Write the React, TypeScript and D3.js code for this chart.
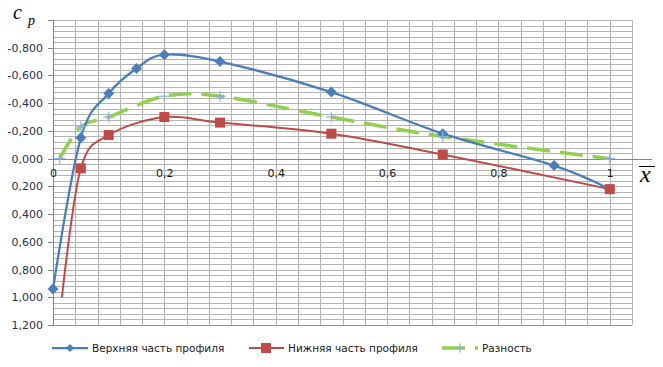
import * as d3 from "d3";

// верхняя часть профиля
const xUpper = [0, 0.05, 0.1, 0.15, 0.2, 0.3, 0.5, 0.7, 0.9, 1];
const cpUpper = [0.94, -0.15, -0.47, -0.65, -0.75, -0.7, -0.48, -0.18, 0.05, 0.22];
// нижняя часть профиля
const xLower = [0.016, 0.05, 0.1, 0.2, 0.3, 0.5, 0.7, 1];
const cpLower = [1.0, 0.07, -0.17, -0.3, -0.26, -0.18, -0.03, 0.22];
// разность
const xDiff = [0.012, 0.05, 0.1, 0.2, 0.3, 0.5, 0.7, 1];
const cpDiff = [0.0, -0.23, -0.3, -0.45, -0.45, -0.3, -0.16, 0.0];

const yTicks = [-0.8, -0.6, -0.4, -0.2, 0, 0.2, 0.4, 0.6, 0.8, 1.0, 1.2];
const xTicks = [0, 0.2, 0.4, 0.6, 0.8, 1];
const xTickLabels = ["0", "0,2", "0,4", "0,6", "0,8", "1"];
const seriesNames = ["Верхняя часть профиля", "Нижняя часть профиля", "Разность"];

const BLUE = "#4A7EBB";
const RED = "#BE4B48";
const GREEN = "#92D050";
const CROSS = "#8EB0DA";
const GRID = "#B4B4B4";
const FONT = "DejaVu Sans";

const width = 663;
const height = 367;

const x = d3.scaleLinear().domain([0, 1.04]).range([53, 632]);
const y = d3.scaleLinear().domain([-1.0, 1.2]).range([20, 325]);

const zip = (xs: number[], ys: number[]) => xs.map((v, i) => [v, ys[i]] as [number, number]);

const line = d3
  .line<[number, number]>()
  .x((d) => x(d[0]))
  .y((d) => y(d[1]))
  .curve(d3.curveCardinal.tension(0));

const fmtY = (v: number) => (v < -1e-9 ? "-" : "") + Math.abs(v).toFixed(3).replace(".", ",");

const gridX = d3.range(0, 27).map((i) => i * 0.04);
const gridY = d3.range(0, 56).map((i) => -1.0 + i * 0.04);

function Diamond({ cx, cy, r, color }: { cx: number; cy: number; r: number; color: string }) {
  return <path d={`M${cx},${cy - r}L${cx + r},${cy}L${cx},${cy + r}L${cx - r},${cy}Z`} fill={color} />;
}

function Cross({ cx, cy, r }: { cx: number; cy: number; r: number }) {
  return (
    <g stroke={CROSS} strokeWidth={1.2}>
      <line x1={cx - r} x2={cx + r} y1={cy} y2={cy} />
      <line x1={cx} x2={cx} y1={cy - r} y2={cy + r} />
    </g>
  );
}

export default function App() {
  const upper = zip(xUpper, cpUpper);
  const lower = zip(xLower, cpLower);
  const diff = zip(xDiff, cpDiff);
  const legY = 348;

  return (
    <svg
      width={width}
      height={height}
      style={{ position: "absolute", left: 0, top: 0, background: "#fff" }}
      fontFamily={FONT}
    >
      <rect width={width} height={height} fill="#fff" />
      <g className="grid" stroke={GRID} strokeWidth={1}>
        {gridX.map((g, i) => (
          <line key={"gx" + i} x1={Math.round(x(g)) + 0.5} x2={Math.round(x(g)) + 0.5} y1={20} y2={325} />
        ))}
        {gridY.map((g, i) => (
          <line key={"gy" + i} x1={53} x2={632} y1={Math.round(y(g)) + 0.5} y2={Math.round(y(g)) + 0.5} />
        ))}
      </g>

      {/* axes */}
      <line x1={53} x2={652} y1={Math.round(y(0)) + 0.5} y2={Math.round(y(0)) + 0.5} stroke="#868686" />
      <line x1={53.5} x2={53.5} y1={20} y2={325} stroke="#868686" />
      <line x1={53} x2={632} y1={Math.round(y(1.2)) + 0.5} y2={Math.round(y(1.2)) + 0.5} stroke="#7F9BC8" />
      {[-1.0, ...yTicks].map((t, i) => (
        <line key={"yt" + i} x1={48} x2={53} y1={Math.round(y(t)) + 0.5} y2={Math.round(y(t)) + 0.5} stroke="#868686" />
      ))}
      {yTicks.map((t, i) => (
        <text key={"yl" + i} x={43} y={y(t) + 4} textAnchor="end" fontSize={11} fill="#1F3050">
          {fmtY(t)}
        </text>
      ))}
      {xTicks.map((t, i) => (
        <text key={"xl" + i} x={x(t) + 0.5} y={y(0) + 18} textAnchor="middle" fontSize={11} fill="#1a1a1a">
          {xTickLabels[i]}
        </text>
      ))}

      {/* axis titles */}
      <text x={13} y={19} fontFamily="Liberation Serif" fontStyle="italic" fontSize={20} fill="#000">c</text>
      <text x={28} y={25} fontFamily="Liberation Serif" fontStyle="italic" fontSize={14} fill="#000">p</text>
      <text x={640} y={182} fontFamily="Liberation Serif" fontStyle="italic" fontSize={24} fill="#000">x</text>
      <line x1={639} x2={655} y1={166.5} y2={166.5} stroke="#000" strokeWidth={1} />

      {/* series */}
      <path d={line(diff) ?? ""} fill="none" stroke={GREEN} strokeWidth={3.5} strokeDasharray="23 10" />
      <path d={line(lower) ?? ""} fill="none" stroke={RED} strokeWidth={2} />
      <path d={line(upper) ?? ""} fill="none" stroke={BLUE} strokeWidth={2.25} />

      {upper.map((d, i) => (
        <Diamond key={"u" + i} cx={x(d[0])} cy={y(d[1])} r={5.5} color={BLUE} />
      ))}
      {lower.map((d, i) =>
        i === 0 ? null : (
          <rect key={"l" + i} x={x(d[0]) - 5} y={y(d[1]) - 5} width={10} height={10} fill={RED} />
        )
      )}
      {diff.map((d, i) => (
        <Cross key={"d" + i} cx={x(d[0])} cy={y(d[1])} r={5.5} />
      ))}

      {/* legend */}
      <g fontSize={10.5} fill="#1a1a1a">
        <line x1={52} x2={88} y1={legY} y2={legY} stroke={BLUE} strokeWidth={2.25} />
        <Diamond cx={70} cy={legY} r={4} color={BLUE} />
        <text x={92} y={legY + 4}>{seriesNames[0]}</text>

        <line x1={249} x2={284} y1={legY} y2={legY} stroke={RED} strokeWidth={2} />
        <rect x={261} y={legY - 5} width={10} height={10} fill={RED} />
        <text x={288} y={legY + 4}>{seriesNames[1]}</text>

        <line x1={442} x2={478} y1={legY} y2={legY} stroke={GREEN} strokeWidth={3.5} strokeDasharray="23 10" />
        <Cross cx={460} cy={legY} r={4.5} />
        <text x={482} y={legY + 4}>{seriesNames[2]}</text>
      </g>
    </svg>
  );
}
